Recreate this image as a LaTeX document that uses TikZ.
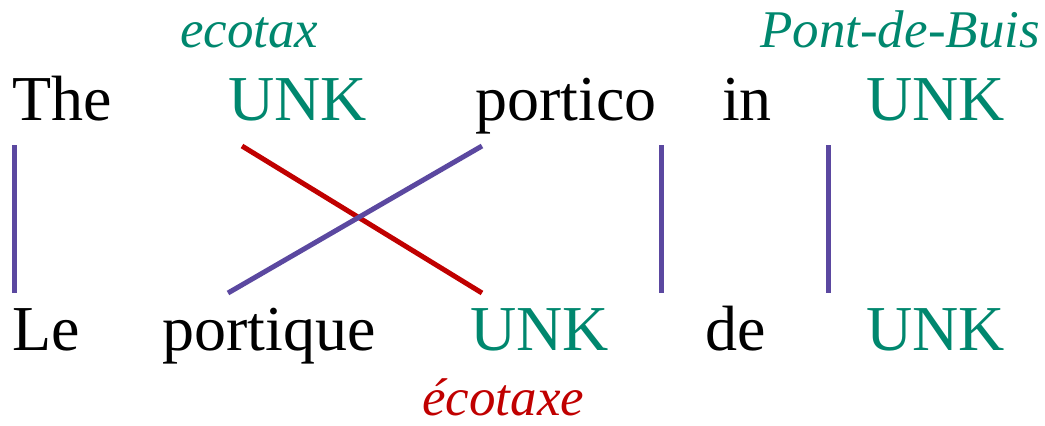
\documentclass[tikz,border=0pt]{standalone}
\usepackage{fontspec}
\setmainfont{Liberation Serif}
\definecolor{tealc}{HTML}{00876E}
\definecolor{redc}{HTML}{C00000}
\definecolor{purc}{HTML}{5B48A0}
\begin{document}
\begin{tikzpicture}[x=1pt,y=-1pt,
  word/.style={anchor=base west,inner sep=0pt,font=\fontsize{64}{76}\selectfont},
  unk/.style={word,text=tealc},
  gloss/.style={anchor=base west,inner sep=0pt,font=\fontsize{53}{62}\selectfont\itshape},
  link/.style={purc,line width=5pt},
  rlink/.style={redc,line width=5pt}]
\useasboundingbox (0,0) rectangle (1045,426);
% top row
\node[word] (the) at (12,120) {The};
\node[unk] (unk1) at (228,120) {UNK};
\node[word] (portico) at (475,120) {portico};
\node[word] (in) at (722,120) {in};
\node[unk] (unk2) at (866,120) {UNK};
% bottom row
\node[word] (le) at (12,350) {Le};
\node[word] (portique) at (162,350) {portique};
\node[unk] (unk3) at (470,350) {UNK};
\node[word] (de) at (705,350) {de};
\node[unk] (unk4) at (866,350) {UNK};
% glosses
\node[gloss,text=tealc] (g1) at (180,47) {ecotax};
\node[gloss,text=tealc] (g2) at (760,47) {Pont-de-Buis};
\node[gloss,text=redc] (g3) at (422,415) {écotaxe};
% endpoints
\coordinate (a1) at (14,145);   \coordinate (b1) at (14,293);
\coordinate (a2) at (242,146);  \coordinate (b2) at (482,293);
\coordinate (a3) at (482,146);  \coordinate (b3) at (228,293);
\coordinate (a4) at (661,145);  \coordinate (b4) at (661,293);
\coordinate (a5) at (828,145);  \coordinate (b5) at (828,293);
\draw[link] (a1) -- (b1);
\draw[rlink] (a2) -- (b2);
\draw[link] (a3) -- (b3);
\draw[link] (a4) -- (b4);
\draw[link] (a5) -- (b5);
\end{tikzpicture}
\end{document}
